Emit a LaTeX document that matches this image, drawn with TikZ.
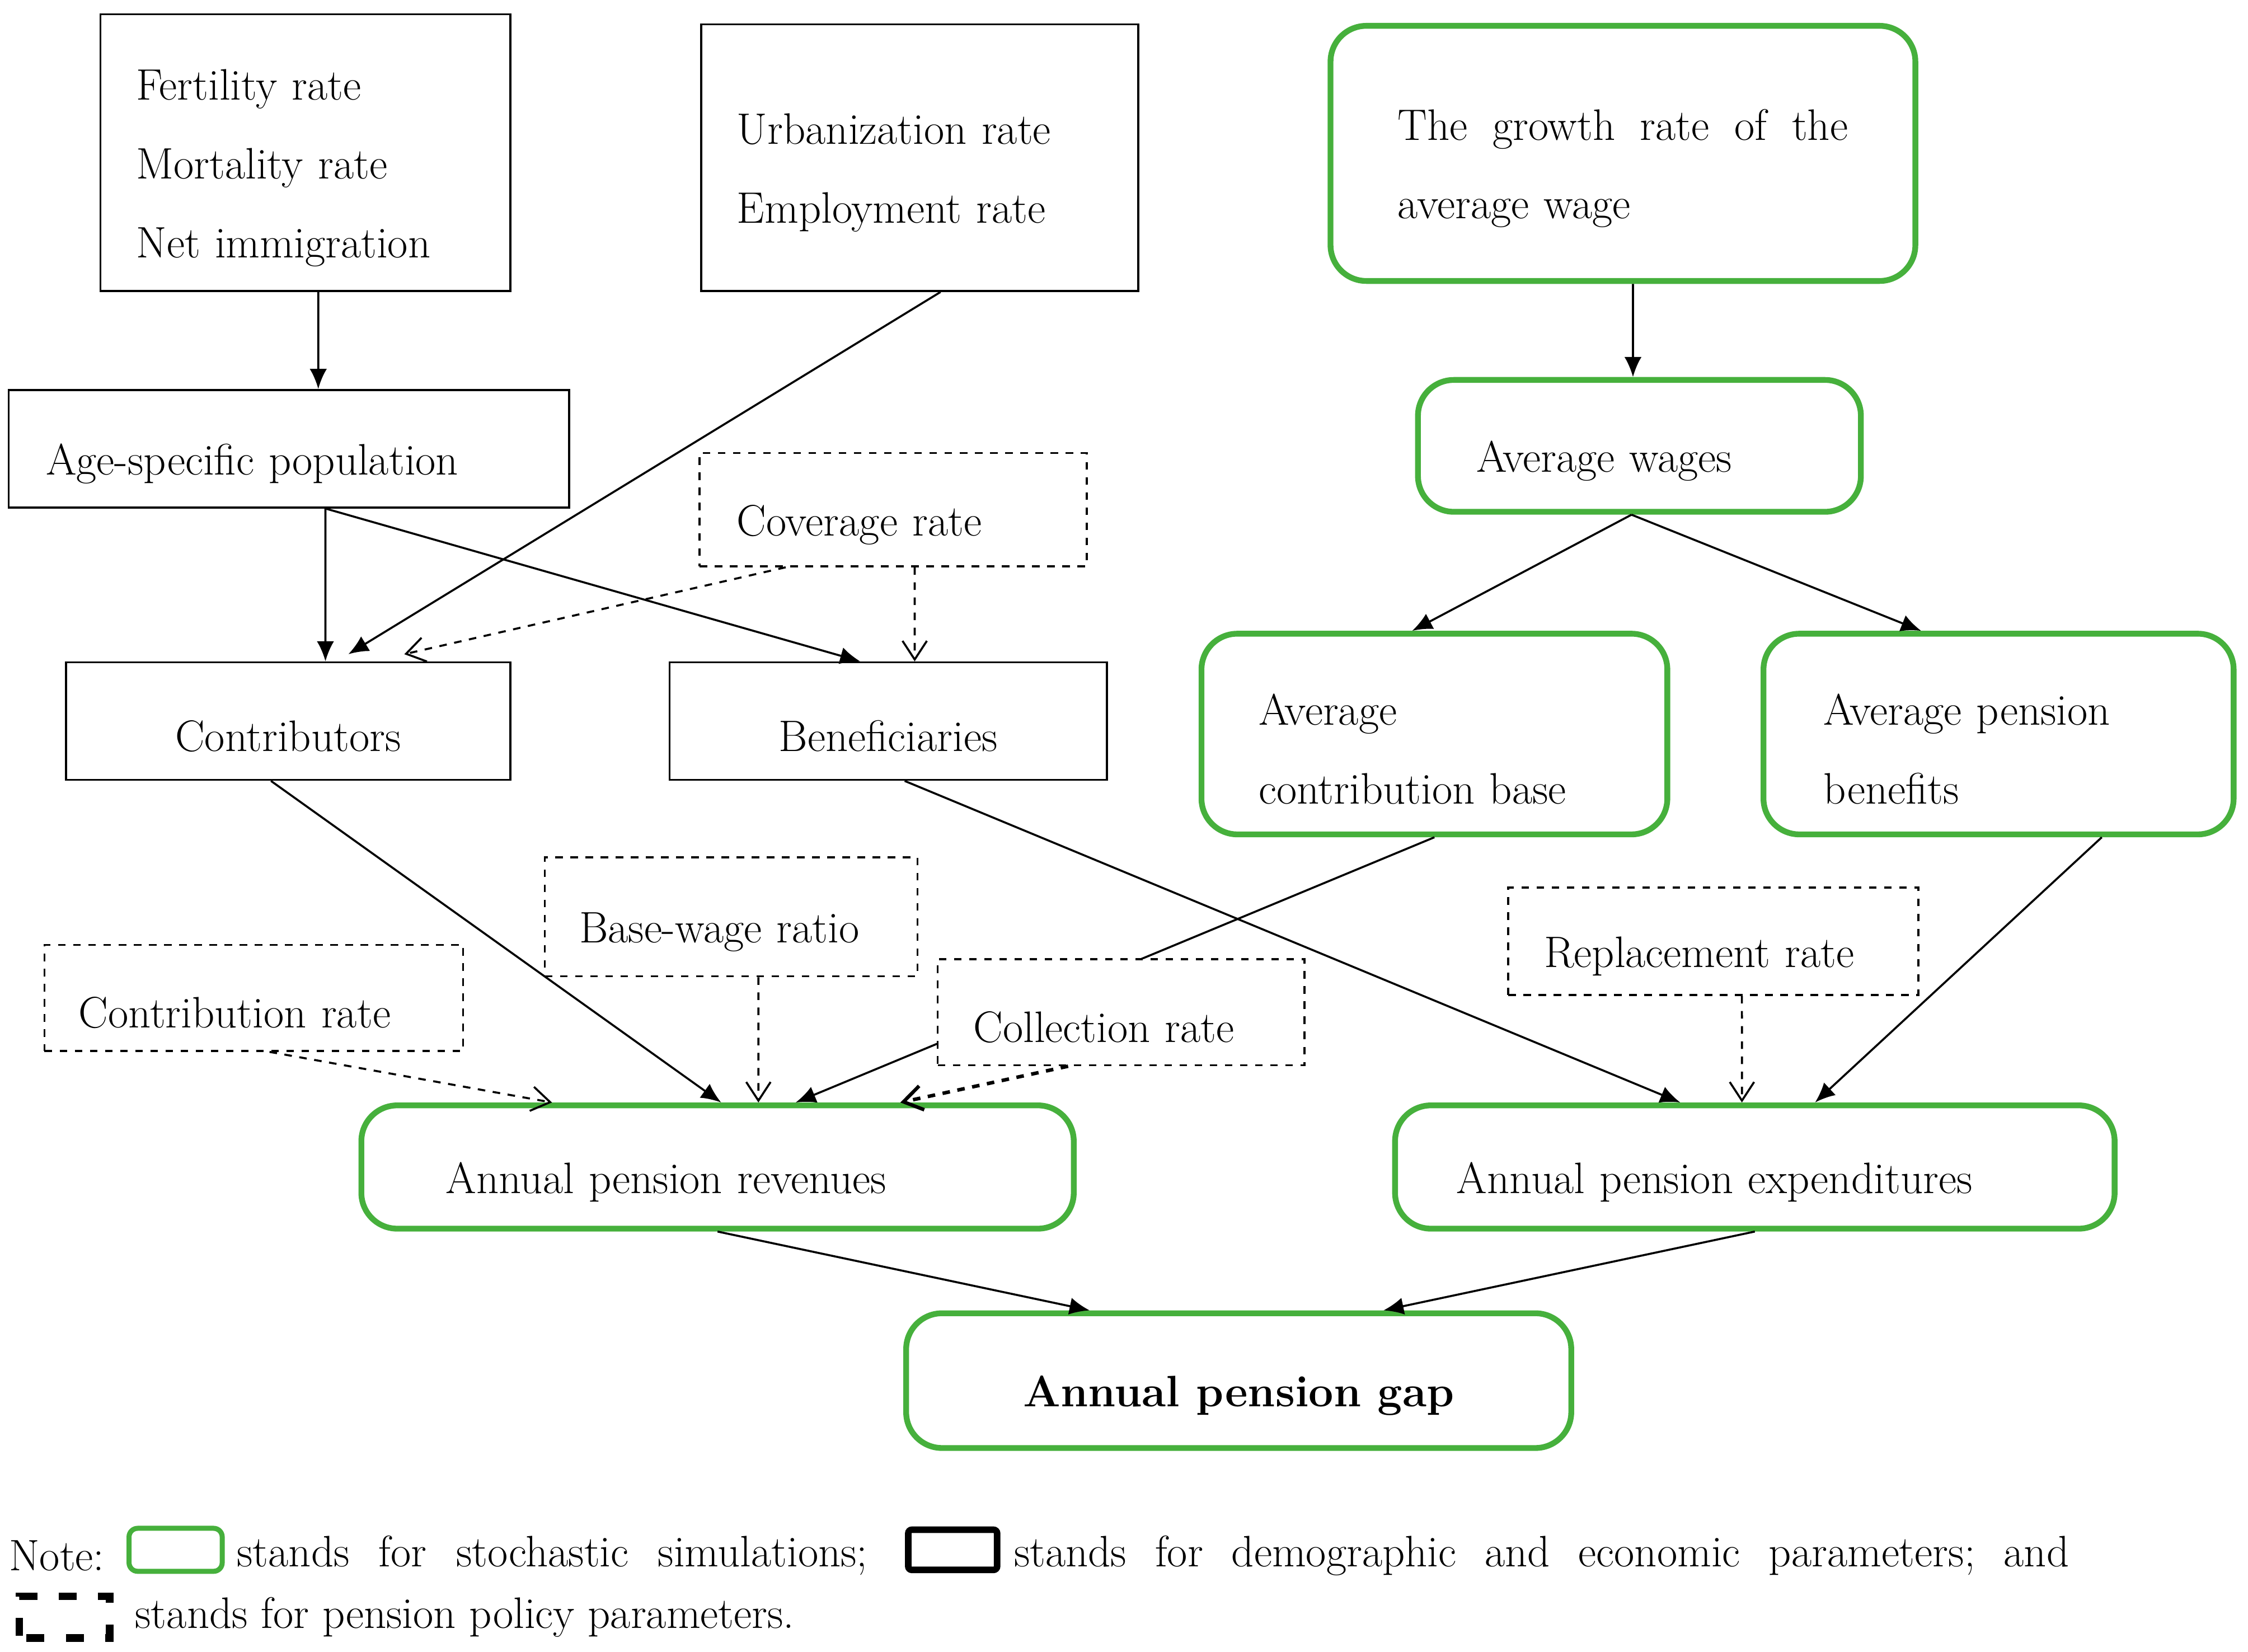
\documentclass[tikz,border=0pt]{standalone}
\usepackage{tikz}
\usetikzlibrary{arrows.meta}
\definecolor{simgreen}{RGB}{70,176,60}
\newcommand{\tstrut}{\rule{0pt}{0.85cm}}
\tikzset{>={Latex[length=2.8mm,width=2.4mm]}}
\tikzstyle{line} = [draw, ->, line width=0.8pt]
\tikzstyle{pline} = [draw, dashed, line width=0.8pt, -{Straight Barb[length=2.6mm,width=3.4mm]}]
\tikzstyle{param} = [draw, line width=0.8pt, fill=white, font=\fontsize{17.5}{31.3}\selectfont, align=left, inner ysep=0pt, execute at begin node=\tstrut]
\tikzstyle{policy} = [param, dashed]
\tikzstyle{sim} = [param, draw=simgreen, line width=2.3pt, rounded corners=0.5cm]

\begin{document}
\begin{tikzpicture}[x=0.02cm, y=-0.02cm]
                \useasboundingbox (0,0) rectangle (1568,1152);
                % Demographic and economic parameters
                \node [param, minimum width=5.72cm, minimum height=3.86cm, text width=4.72cm, inner xsep=0.5cm] (demo) at (213,106.5) {Fertility rate\\Mortality rate\\Net immigration};
                \node [param, minimum width=6.1cm, minimum height=3.72cm, text width=5.1cm, inner xsep=0.5cm] (urban) at (641.5,110) {Urbanization rate\\Employment rate};
                \node [param, minimum width=7.82cm, minimum height=1.64cm, text width=6.78cm, inner xsep=0.52cm] (age) at (201.5,313) {Age-specific population};
                \node [param, minimum width=6.2cm, minimum height=1.64cm, align=center] (contrib) at (201,503) {Contributors};
                \node [param, minimum width=6.1cm, minimum height=1.64cm, align=center] (benef) at (619.5,503) {Beneficiaries};

                % Stochastic simulations
                \node [sim, minimum width=8.16cm, minimum height=3.56cm, text width=6.28cm, inner xsep=0.94cm] (growth) at (1132,107) {The\hfill growth\hfill rate\hfill of\hfill the\\average wage};
                \node [sim, minimum width=6.18cm, minimum height=1.84cm, text width=4.54cm, inner xsep=0.82cm] (wage) at (1143.5,311) {Average wages};
                \node [sim, minimum width=6.5cm, minimum height=2.8cm, text width=4.9cm, inner xsep=0.8cm] (base) at (1000.5,512) {Average\\contribution base};
                \node [sim, minimum width=6.56cm, minimum height=2.8cm, text width=4.88cm, inner xsep=0.84cm] (benefit) at (1394,512) {Average pension\\benefits};
                \node [sim, minimum width=9.94cm, minimum height=1.72cm, text width=7.58cm, inner xsep=1.18cm] (revenue) at (500.5,814) {Annual pension revenues};
                \node [sim, minimum width=10.04cm, minimum height=1.72cm, text width=8.32cm, inner xsep=0.86cm] (expend) at (1224,814) {Annual pension expenditures};
                \node [sim, minimum width=9.28cm, minimum height=1.88cm, align=center, font=\fontsize{17.5}{31.3}\selectfont\bfseries] (gap) at (864,963) {Annual pension gap};

                \path [line] (base.south) -- ([xshift=1.09cm]revenue.north);

                % Pension policy parameters
                \node [policy, minimum width=5.4cm, minimum height=1.58cm, text width=4.36cm, inner xsep=0.52cm] (cover) at (623,355.5) {Coverage rate};
                \node [policy, minimum width=5.2cm, minimum height=1.66cm, text width=4.24cm, inner xsep=0.48cm] (ratio) at (510,639.5) {Base-wage ratio};
                \node [policy, minimum width=5.84cm, minimum height=1.48cm, text width=4.88cm, inner xsep=0.48cm] (crate) at (177,696) {Contribution rate};
                \node [policy, minimum width=5.12cm, minimum height=1.48cm, text width=4.12cm, inner xsep=0.5cm] (collect) at (782,706) {Collection rate};
                \node [policy, minimum width=5.72cm, minimum height=1.5cm, text width=4.72cm, inner xsep=0.5cm] (replace) at (1195,656.5) {Replacement rate};

                % Add Arrows
                \path [line] ([xshift=0.18cm]demo.south) -- ([xshift=0.41cm]age.north);
                \path [line] ([xshift=0.29cm]urban.south) -- ([xshift=0.84cm,yshift=0.1cm]contrib.north);
                \path [line] ([xshift=0.51cm]age.south) -- ([xshift=0.52cm]contrib.north);
                \path [line] ([xshift=0.51cm]age.south) -- ([xshift=-0.39cm]benef.north);
                \path [pline] ([xshift=-1.5cm]cover.south) -- ([xshift=1.62cm,yshift=0.1cm]contrib.north);
                \path [pline] ([xshift=0.3cm]cover.south) -- ([xshift=0.37cm]benef.north);
                \path [line] ([xshift=0.14cm]growth.south) -- ([xshift=-0.09cm]wage.north);
                \path [line] ([xshift=-0.11cm]wage.south) -- ([xshift=-0.31cm]base.north);
                \path [line] ([xshift=-0.11cm]wage.south) -- ([xshift=-1.08cm]benefit.north);
                \path [line] ([xshift=-0.24cm]contrib.south) -- ([xshift=0.05cm]revenue.north);
                \path [pline] ([xshift=0.38cm]ratio.south) -- ([xshift=0.57cm]revenue.north);
                \path [pline] ([xshift=0.22cm]crate.south) -- ([xshift=-2.31cm]revenue.north);
                \path [pline, line width=1.4pt] ([xshift=-0.74cm]collect.south) -- ([xshift=2.55cm]revenue.north);
                \path [line] ([xshift=0.23cm]benef.south) -- ([xshift=-1.04cm]expend.north);
                \path [pline] ([xshift=0.4cm]replace.south) -- ([xshift=-0.18cm]expend.north);
                \path [line] ([xshift=1.44cm]benefit.south) -- ([xshift=0.84cm]expend.north);
                \path [line] (revenue.south) -- ([xshift=-2.08cm]gap.north);
                \path [line] (expend.south) -- ([xshift=2.02cm]gap.north);

                % Note
                \begin{scope}[every node/.style={font=\fontsize{17.5}{31.3}\selectfont, inner sep=0pt, anchor=west, align=left}]
                \node (note) at (6,1085) {Note:};
                \node [draw=simgreen, line width=2pt, rounded corners=0.12cm, minimum width=1.3cm, minimum height=0.6cm, anchor=center] (keysim) at (122.5,1081) {};
                \node [text width=8.8cm] (notesim) at (165,1085) {stands\hfill for\hfill stochastic\hfill simulations;};
                \node [draw, line width=2.6pt, rounded corners=0.05cm, minimum width=1.24cm, minimum height=0.56cm, anchor=center] (keyparam) at (664.5,1081) {};
                \node [text width=14.72cm] (noteparam) at (707,1085) {stands\hfill for\hfill demographic\hfill and\hfill economic\hfill parameters;\hfill and};
                \node [draw, line width=3pt, dash pattern=on 0.25cm off 0.3cm, dash phase=0.45cm, minimum width=1.26cm, minimum height=0.58cm, anchor=center] (keypolicy) at (45,1128) {};
                \node (notepolicy) at (94,1128) {stands for pension policy parameters.};
                \end{scope}
            \end{tikzpicture}
\end{document}
